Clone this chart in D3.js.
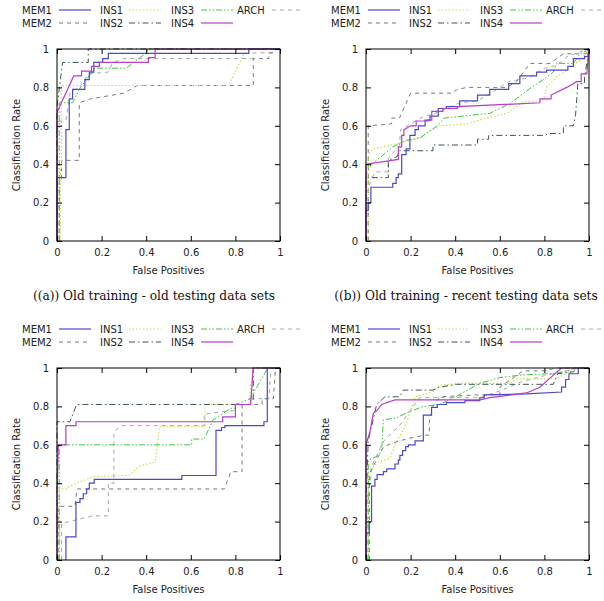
<!DOCTYPE html>
<html><head><meta charset="utf-8">
<script src="https://cdn.jsdelivr.net/npm/d3@7"></script>
<style>
body{margin:0;background:#fff;}
svg{display:block;}
</style></head>
<body>
<svg id="c" width="604" height="601"></svg>
<script>
const seriesNames = ["MEM1","MEM2","INS1","INS2","INS3","INS4","ARCH"];
const captions = ["((a)) Old training - old testing data sets","((b)) Old training - recent testing data sets","",""];
const tickValues = [0,0.2,0.4,0.6,0.8,1];
const tickLabels = ["0","0.2","0.4","0.6","0.8","1"];

// each series: [panel a, panel b, panel c, panel d], points are [false positives, classification rate]
const MEM1 = [
 [[0,0],[0,0.33],[0.04,0.33],[0.04,0.58],[0.055,0.58],[0.055,0.74],[0.07,0.74],[0.07,0.79],[0.125,0.79],[0.125,0.84],[0.145,0.84],[0.145,0.88],[0.165,0.88],[0.165,0.93],[0.205,0.93],[0.205,0.95],[0.23,0.95],[0.23,0.977],[0.86,0.977],[0.86,1],[1,1]],
 [[0,0],[0,0.16],[0.01,0.16],[0.01,0.2],[0.022,0.2],[0.022,0.28],[0.12,0.28],[0.12,0.3],[0.135,0.3],[0.135,0.33],[0.145,0.33],[0.145,0.35],[0.16,0.35],[0.16,0.45],[0.18,0.45],[0.18,0.48],[0.197,0.48],[0.197,0.55],[0.22,0.55],[0.22,0.58],[0.235,0.58],[0.235,0.6],[0.265,0.6],[0.265,0.63],[0.287,0.63],[0.287,0.65],[0.324,0.65],[0.324,0.69],[0.36,0.69],[0.36,0.7],[0.42,0.7],[0.42,0.73],[0.5,0.73],[0.5,0.76],[0.555,0.76],[0.555,0.79],[0.64,0.79],[0.64,0.82],[0.69,0.82],[0.69,0.86],[0.765,0.86],[0.765,0.88],[0.81,0.88],[0.81,0.89],[0.905,0.89],[0.905,0.91],[0.93,0.91],[0.93,0.95],[0.98,0.95],[0.98,0.96],[0.997,0.96],[0.997,1],[1,1]],
 [[0.04,0],[0.04,0.12],[0.085,0.12],[0.085,0.3],[0.103,0.3],[0.103,0.32],[0.118,0.32],[0.118,0.345],[0.133,0.345],[0.133,0.37],[0.145,0.37],[0.145,0.4],[0.167,0.4],[0.167,0.42],[0.56,0.42],[0.56,0.44],[0.713,0.44],[0.713,0.675],[0.738,0.675],[0.738,0.69],[0.753,0.69],[0.753,0.7],[0.928,0.7],[0.928,0.72],[0.943,0.72],[0.943,1],[1,1]],
 [[0,0],[0,0.14],[0.015,0.14],[0.015,0.2],[0.025,0.2],[0.025,0.385],[0.04,0.385],[0.04,0.42],[0.05,0.42],[0.05,0.445],[0.078,0.445],[0.078,0.46],[0.093,0.46],[0.093,0.475],[0.13,0.475],[0.13,0.5],[0.145,0.5],[0.145,0.52],[0.152,0.52],[0.152,0.545],[0.164,0.545],[0.164,0.57],[0.178,0.57],[0.178,0.59],[0.19,0.59],[0.19,0.6],[0.22,0.6],[0.22,0.62],[0.257,0.62],[0.257,0.755],[0.294,0.755],[0.294,0.795],[0.32,0.795],[0.32,0.81],[0.36,0.81],[0.36,0.82],[0.444,0.82],[0.444,0.83],[0.51,0.83],[0.51,0.845],[0.53,0.845],[0.53,0.86],[0.72,0.865],[0.877,0.875],[0.877,0.9],[0.895,0.9],[0.895,0.94],[0.91,0.94],[0.91,0.97],[0.952,0.97],[0.952,1],[1,1]]
];
const MEM2 = [
 [[0.01,0],[0.01,0.32],[0.02,0.32],[0.02,0.42],[0.1,0.42],[0.1,0.72],[0.15,0.74],[0.3,0.77],[0.36,0.81],[0.88,0.81],[0.88,0.95],[0.95,0.95],[0.95,0.98],[0.97,0.98],[0.97,1],[1,1]],
 [[0.01,0],[0.01,0.6],[0.115,0.61],[0.115,0.64],[0.15,0.64],[0.2,0.77],[0.39,0.77],[0.4,0.785],[0.45,0.8],[0.63,0.8],[0.675,0.83],[0.735,0.925],[0.825,0.925],[0.885,0.975],[0.99,0.975],[0.99,1],[1,1]],
 [[0.005,0],[0.005,0.28],[0.08,0.28],[0.09,0.37],[0.75,0.37],[0.78,0.46],[0.83,0.46],[0.83,0.81],[0.92,0.81],[0.92,0.84],[0.97,0.84],[0.98,1],[1,1]],
 [[0.015,0],[0.015,0.45],[0.033,0.49],[0.06,0.55],[0.08,0.59],[0.12,0.61],[0.18,0.63],[0.26,0.65],[0.284,0.65],[0.284,0.72],[0.3,0.8],[0.33,0.85],[0.5,0.86],[0.6,0.86],[0.6,0.9],[0.705,0.985],[0.8,0.985],[0.85,1],[1,1]]
];
const INS1 = [
 [[0.015,0],[0.015,0.38],[0.02,0.38],[0.02,0.81],[0.77,0.81],[0.84,0.98],[0.86,0.98],[0.86,1],[1,1]],
 [[0.01,0],[0.01,0.45],[0.03,0.48],[0.115,0.5],[0.18,0.517],[0.24,0.54],[0.33,0.6],[0.45,0.61],[0.54,0.64],[0.63,0.665],[0.705,0.725],[0.78,0.73],[0.8,0.74],[0.81,0.8],[0.855,0.855],[0.89,0.88],[0.945,0.93],[0.975,0.96],[1,1]],
 [[0.01,0],[0.01,0.37],[0.043,0.37],[0.05,0.38],[0.088,0.4],[0.163,0.435],[0.32,0.44],[0.372,0.49],[0.44,0.51],[0.454,0.636],[0.46,0.696],[0.664,0.696],[0.664,0.81],[0.86,0.81],[0.88,1],[1,1]],
 [[0.01,0],[0.01,0.46],[0.048,0.506],[0.108,0.53],[0.13,0.6],[0.18,0.705],[0.22,0.85],[0.3,0.877],[0.33,0.91],[0.42,0.92],[0.645,0.92],[0.675,0.943],[0.85,0.943],[0.93,0.99],[0.95,1],[1,1]]
];
const INS2 = [
 [[0,0],[0,0.7],[0.025,0.93],[0.14,0.93],[0.14,1],[1,1]],
 [[0,0],[0,0.31],[0.01,0.33],[0.1,0.33],[0.1,0.42],[0.14,0.44],[0.15,0.47],[0.3,0.47],[0.3,0.5],[0.5,0.5],[0.5,0.53],[0.55,0.53],[0.55,0.55],[0.8,0.55],[0.82,0.56],[0.885,0.56],[0.885,0.6],[0.93,0.6],[0.94,0.66],[0.95,0.82],[0.98,0.82],[0.98,0.85],[1,1]],
 [[0,0],[0,0.72],[0.058,0.72],[0.088,0.81],[0.866,0.81],[0.866,0.83],[0.88,0.83],[0.88,1],[1,1]],
 [[0,0],[0,0.3],[0.01,0.62],[0.048,0.81],[0.085,0.85],[0.15,0.85],[0.167,0.885],[0.3,0.885],[0.33,0.9],[0.406,0.915],[0.84,0.915],[0.86,0.97],[0.93,0.98],[0.95,1],[1,1]]
];
const INS3 = [
 [[0.01,0],[0.01,0.72],[0.07,0.72],[0.1,0.79],[0.15,0.87],[0.17,0.9],[0.31,0.9],[0.4,0.98],[0.41,1],[1,1]],
 [[0,0],[0,0.35],[0.025,0.4],[0.1,0.47],[0.12,0.49],[0.18,0.525],[0.24,0.535],[0.27,0.56],[0.32,0.6],[0.35,0.64],[0.555,0.665],[0.645,0.715],[0.735,0.795],[0.795,0.84],[0.84,0.88],[0.855,0.925],[0.93,0.925],[0.96,0.975],[0.99,0.99],[1,1]],
 [[0.01,0],[0.01,0.6],[0.604,0.6],[0.604,0.63],[0.66,0.63],[0.7,0.73],[0.74,0.76],[0.78,0.79],[0.8,0.79],[0.8,0.81],[0.866,0.84],[0.94,0.99],[0.95,1],[1,1]],
 [[0.01,0],[0.01,0.52],[0.05,0.54],[0.07,0.57],[0.078,0.73],[0.137,0.74],[0.18,0.765],[0.257,0.8],[0.33,0.81],[0.39,0.843],[0.51,0.92],[0.6,0.95],[0.7,0.964],[0.855,0.972],[0.915,0.99],[0.93,1],[1,1]]
];
const INS4 = [
 [[0,0],[0,0.67],[0.075,0.86],[0.11,0.86],[0.11,0.885],[0.155,0.885],[0.155,0.91],[0.19,0.91],[0.19,0.93],[0.41,0.93],[0.41,0.955],[0.44,0.955],[0.44,1],[1,1]],
 [[0,0],[0,0.4],[0.145,0.425],[0.145,0.49],[0.16,0.49],[0.16,0.55],[0.17,0.55],[0.17,0.58],[0.185,0.59],[0.2,0.6],[0.225,0.6],[0.225,0.625],[0.28,0.625],[0.28,0.63],[0.295,0.63],[0.295,0.675],[0.345,0.675],[0.345,0.69],[0.41,0.69],[0.41,0.7],[0.6,0.71],[0.78,0.72],[0.78,0.74],[0.83,0.74],[0.83,0.76],[0.9,0.8],[0.945,0.83],[0.965,0.83],[0.965,0.87],[0.99,0.87],[1,1]],
 [[0,0],[0,0.35],[0.006,0.6],[0.04,0.6],[0.04,0.7],[0.085,0.7],[0.085,0.72],[0.743,0.72],[0.743,0.745],[0.8,0.745],[0.8,0.81],[0.868,0.81],[0.88,1],[1,1]],
 [[0,0],[0,0.6],[0.018,0.67],[0.033,0.765],[0.048,0.777],[0.07,0.81],[0.13,0.834],[0.51,0.834],[0.556,0.846],[0.72,0.87],[0.78,0.9],[0.84,0.963],[0.877,1],[1,1]]
];
const ARCH = [
 [[0,0],[0,0.62],[0.04,0.63],[0.06,0.78],[0.1,0.8],[0.14,0.87],[0.23,0.88],[0.25,0.93],[0.3,0.95],[0.88,0.95],[0.88,0.98],[0.97,0.98],[0.97,1],[1,1]],
 [[0.01,0],[0.01,0.28],[0.04,0.36],[0.1,0.36],[0.1,0.43],[0.15,0.5],[0.155,0.58],[0.2,0.61],[0.26,0.65],[0.3,0.66],[0.42,0.72],[0.5,0.73],[0.56,0.77],[0.64,0.83],[0.73,0.85],[0.8,0.9],[0.855,0.915],[0.9,0.96],[0.96,0.985],[1,1]],
 [[0.02,0],[0.02,0.19],[0.09,0.21],[0.16,0.23],[0.23,0.23],[0.23,0.4],[0.255,0.4],[0.255,0.67],[0.29,0.7],[0.66,0.7],[0.66,0.76],[0.8,0.78],[0.8,0.81],[0.87,0.81],[0.87,0.84],[0.95,0.84],[0.96,1],[1,1]],
 [[0.005,0],[0.005,0.3],[0.03,0.5],[0.08,0.62],[0.15,0.7],[0.2,0.78],[0.24,0.846],[0.51,0.846],[0.6,0.88],[0.7,0.93],[0.8,0.96],[0.9,0.985],[0.95,1],[1,1]]
];
const seriesData = {MEM1, MEM2, INS1, INS2, INS3, INS4, ARCH};

const styles = {
  MEM1:{color:"#4a4ac8", dash:null, w:1.2},
  MEM2:{color:"#7a7a7a", dash:"4,4", w:1},
  INS1:{color:"#c8e050", dash:"1.5,2", w:1.2},
  INS2:{color:"#3a5a48", dash:"6,3,1.5,3", w:1},
  INS3:{color:"#3cc83c", dash:"6,2,1.5,2,1.5,2", w:1},
  INS4:{color:"#b83cc8", dash:null, w:1.2},
  ARCH:{color:"#a8a8a8", dash:"4,4", w:1}
};
const legendRows = [["MEM1","INS1","INS3","ARCH"],["MEM2","INS2","INS4"]];

const svg = d3.select("#c");
const panels = [
  {x0:57, y0:49, col:0, row:0},
  {x0:366, y0:49, col:1, row:0},
  {x0:57, y0:368, col:0, row:1},
  {x0:366, y0:368, col:1, row:1}
];
const W = 223, H = 192;
const font = "DejaVu Sans, sans-serif";

panels.forEach((p, i) => {
  const g = svg.append("g").attr("transform", `translate(${p.x0},${p.y0})`);
  const x = d3.scaleLinear().domain([0,1]).range([0,W]);
  const y = d3.scaleLinear().domain([0,1]).range([H,0]);

  // legend
  const lg = svg.append("g").attr("transform", `translate(${p.x0},${p.y0 - 39})`);
  const textX = [-35, 43, 114, 180];
  const lineX = [2, 72, 144, 215];
  legendRows.forEach((row, ri) => {
    row.forEach((name, ci) => {
      const st = styles[name];
      const gy = ri * 13;
      lg.append("text").attr("x", textX[ci]).attr("y", gy).attr("dy","0.35em")
        .attr("font-family", font).attr("font-size", 10).attr("fill","#222").text(name);
      lg.append("line").attr("x1", lineX[ci]).attr("x2", lineX[ci] + 32).attr("y1", gy).attr("y2", gy)
        .attr("stroke", st.color).attr("stroke-width", st.w).attr("stroke-dasharray", st.dash);
    });
  });

  const clipId = "clip" + i;
  g.append("clipPath").attr("id", clipId).append("rect").attr("x",-1).attr("y",-1).attr("width",W+2).attr("height",H+2);

  const line = d3.line().x(d => x(d[0])).y(d => y(d[1]));
  const plot = g.append("g").attr("clip-path", `url(#${clipId})`);
  ["ARCH","MEM2","INS1","INS3","INS2","MEM1","INS4"].forEach(name => {
    const st = styles[name];
    plot.append("path").datum(seriesData[name][i])
      .attr("d", line).attr("fill","none")
      .attr("stroke", st.color).attr("stroke-width", st.w)
      .attr("stroke-dasharray", st.dash).attr("stroke-linejoin","miter");
  });

  // frame
  g.append("rect").attr("x",0).attr("y",0).attr("width",W).attr("height",H)
    .attr("fill","none").attr("stroke","#000").attr("stroke-width",1);

  // axes with inward ticks
  const xb = g.append("g").attr("transform",`translate(0,${H})`)
    .call(d3.axisBottom(x).tickValues(tickValues).tickFormat((d,k)=>tickLabels[k]).tickSizeInner(-5).tickSizeOuter(0).tickPadding(8));
  const xt = g.append("g").call(d3.axisTop(x).tickValues(tickValues).tickFormat("").tickSizeInner(-5).tickSizeOuter(0));
  const yl = g.append("g").call(d3.axisLeft(y).tickValues(tickValues).tickFormat((d,k)=>tickLabels[k]).tickSizeInner(-5).tickSizeOuter(0).tickPadding(8));
  const yr = g.append("g").attr("transform",`translate(${W},0)`).call(d3.axisRight(y).tickValues(tickValues).tickFormat("").tickSizeInner(-5).tickSizeOuter(0));
  [xb,xt,yl,yr].forEach(a => {
    a.select(".domain").remove();
    a.selectAll("text").attr("font-family", font).attr("font-size", 10).attr("fill","#222");
    a.selectAll("line").attr("stroke","#000");
  });

  g.append("text").attr("x", W/2).attr("y", H + 29).attr("dy","0.35em").attr("text-anchor","middle")
    .attr("font-family", font).attr("font-size", 10).attr("fill","#222").text("False Positives");
  g.append("text").attr("transform", `translate(${-41},${H/2}) rotate(-90)`).attr("dy","0.35em").attr("text-anchor","middle")
    .attr("font-family", font).attr("font-size", 10).attr("fill","#222").text("Classification Rate");

  if (captions[i]) {
    svg.append("text").attr("x", p.col === 0 ? 154 : 466).attr("y", p.y0 + H + 55).attr("dy","0.35em")
      .attr("text-anchor","middle").attr("font-family","DejaVu Serif, Liberation Serif, serif")
      .attr("font-size", 12.2).attr("fill","#111").text(captions[i]);
  }
});
</script>
</body></html>
